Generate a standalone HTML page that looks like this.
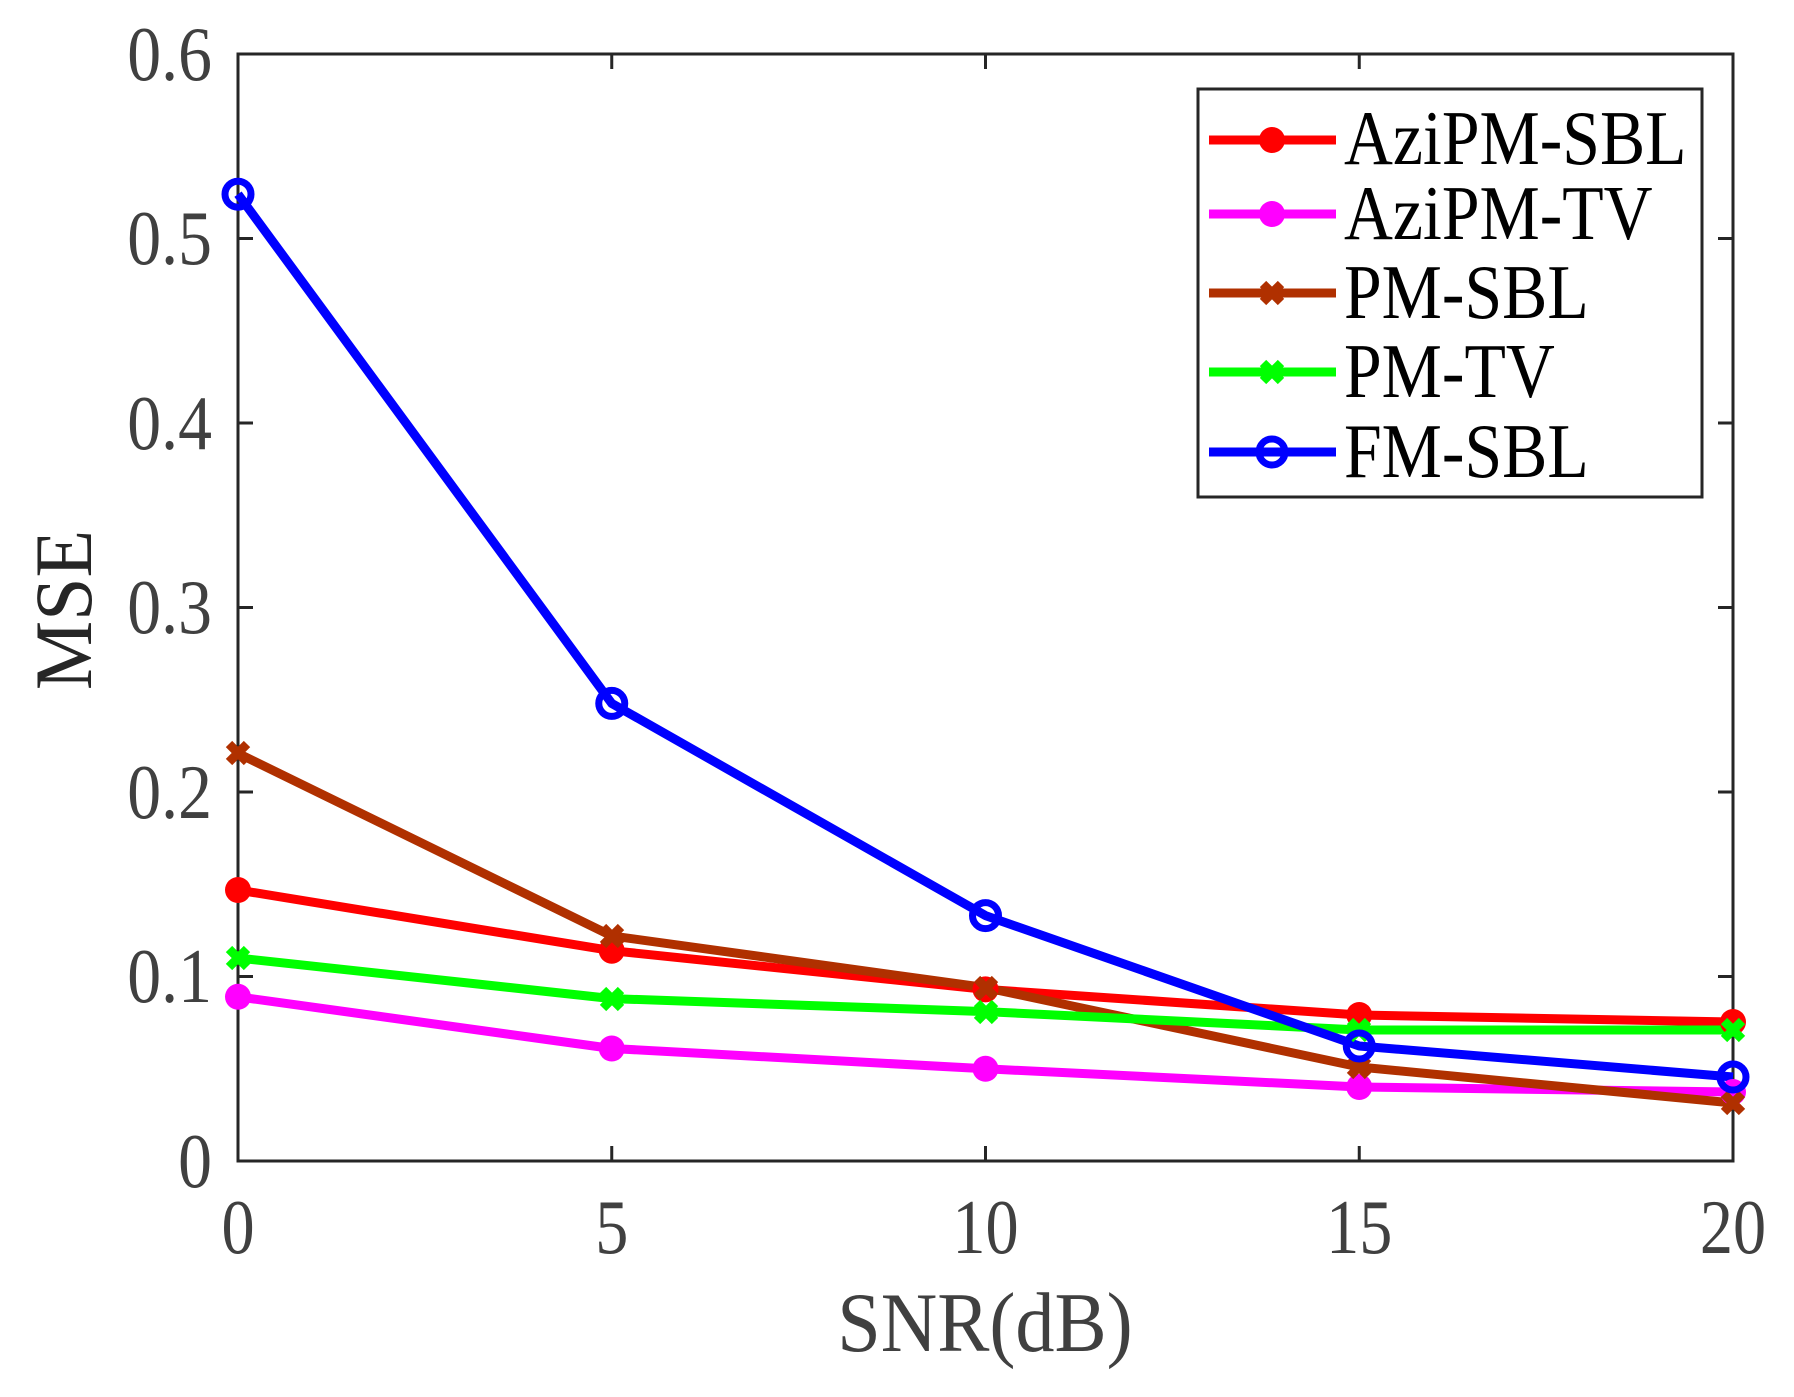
<!DOCTYPE html>
<html><head><meta charset="utf-8"><style>
html,body{margin:0;padding:0;background:#fff;}
svg{display:block;}
text{font-family:"Liberation Serif","Times New Roman",serif;}
</style></head><body>
<svg width="1794" height="1397" viewBox="0 0 1794 1397" xmlns="http://www.w3.org/2000/svg">
<rect width="1794" height="1397" fill="#fff"/>
<g stroke="#262626" stroke-width="3" fill="none">
<rect x="238" y="54" width="1495" height="1107"/>
<path d="M611.75,1161v-15M985.5,1161v-15M1359.25,1161v-15
M611.75,54v15M985.5,54v15M1359.25,54v15
M238,976.5h15M238,792h15M238,607.5h15M238,423h15M238,238.5h15
M1733,976.5h-15M1733,792h-15M1733,607.5h-15M1733,423h-15M1733,238.5h-15"/>
</g>
<g fill="#404040" font-size="77" text-anchor="end">
<text transform="translate(212,1187) scale(0.88,1)">0</text>
<text transform="translate(212,1002) scale(0.88,1)">0.1</text>
<text transform="translate(212,818) scale(0.88,1)">0.2</text>
<text transform="translate(212,633) scale(0.88,1)">0.3</text>
<text transform="translate(212,449) scale(0.88,1)">0.4</text>
<text transform="translate(212,264) scale(0.88,1)">0.5</text>
<text transform="translate(212,80) scale(0.88,1)">0.6</text>
</g>
<g fill="#404040" font-size="77" text-anchor="middle">
<text transform="translate(238,1253) scale(0.86,1)">0</text>
<text transform="translate(611.75,1253) scale(0.86,1)">5</text>
<text transform="translate(985.5,1253) scale(0.86,1)">10</text>
<text transform="translate(1359.25,1253) scale(0.86,1)">15</text>
<text transform="translate(1733,1253) scale(0.86,1)">20</text>
</g>
<text transform="translate(985,1351) scale(0.92,1)" font-size="85" fill="#404040" text-anchor="middle">SNR(dB)</text>
<text transform="translate(91,610) rotate(-90) scale(0.95,1)" font-size="82" fill="#262626" text-anchor="middle">MSE</text>
<g fill="none" stroke-width="9" stroke-linejoin="round">
<polyline stroke="#ff0000" points="238,890 611.75,950.7 985.5,989.4 1359.25,1015 1733,1022"/>
<polyline stroke="#ff00ff" points="238,996.8 611.75,1048.5 985.5,1068.8 1359.25,1087 1733,1092"/>
<polyline stroke="#b03000" points="238,753.3 611.75,935.9 985.5,987.6 1359.25,1067 1733,1103"/>
<polyline stroke="#00ff00" points="238,958 611.75,998.6 985.5,1011.6 1359.25,1030 1733,1030"/>
<polyline stroke="#0000ff" points="238,194.2 611.75,703.4 985.5,915.6 1359.25,1046 1733,1077"/>
</g>
<g fill="#ff0000"><circle cx="238" cy="890" r="13"/><circle cx="611.75" cy="950.7" r="13"/><circle cx="985.5" cy="989.4" r="13"/><circle cx="1359.25" cy="1015" r="13"/><circle cx="1733" cy="1022" r="13"/></g>
<g fill="#ff00ff"><circle cx="238" cy="996.8" r="13"/><circle cx="611.75" cy="1048.5" r="13"/><circle cx="985.5" cy="1068.8" r="13"/><circle cx="1359.25" cy="1087" r="13"/><circle cx="1733" cy="1092" r="13"/></g>
<g stroke="#b03000" stroke-width="9"><path d="M229,744l18,18M247,744l-18,18M603,927l18,18M621,927l-18,18M977,979l18,18M995,979l-18,18M1350,1058l18,18M1368,1058l-18,18M1724,1094l18,18M1742,1094l-18,18"/></g>
<g stroke="#00ff00" stroke-width="9"><path d="M229,949l18,18M247,949l-18,18M603,990l18,18M621,990l-18,18M977,1003l18,18M995,1003l-18,18M1350,1021l18,18M1368,1021l-18,18M1724,1021l18,18M1742,1021l-18,18"/></g>
<g fill="none" stroke="#0000ff" stroke-width="7"><circle cx="238" cy="194.2" r="13"/><circle cx="611.75" cy="703.4" r="13"/><circle cx="985.5" cy="915.6" r="13"/><circle cx="1359.25" cy="1046" r="13"/><circle cx="1733" cy="1077" r="13"/></g>
<rect x="1198" y="89" width="504" height="408" fill="#fff" stroke="#262626" stroke-width="3"/>
<g stroke-width="9">
<line x1="1209" y1="140" x2="1336" y2="140" stroke="#ff0000"/>
<line x1="1209" y1="214" x2="1336" y2="214" stroke="#ff00ff"/>
<line x1="1209" y1="293" x2="1336" y2="293" stroke="#b03000"/>
<line x1="1209" y1="372" x2="1336" y2="372" stroke="#00ff00"/>
<line x1="1209" y1="452" x2="1336" y2="452" stroke="#0000ff"/>
</g>
<circle cx="1272" cy="140" r="13" fill="#ff0000"/>
<circle cx="1272" cy="214" r="13" fill="#ff00ff"/>
<path d="M1263,284l18,18M1281,284l-18,18" stroke="#b03000" stroke-width="9"/>
<path d="M1263,363l18,18M1281,363l-18,18" stroke="#00ff00" stroke-width="9"/>
<circle cx="1272" cy="452" r="13" fill="none" stroke="#0000ff" stroke-width="7"/>
<g font-size="77" fill="#000">
<text transform="translate(1344,164) scale(0.88,1)">AziPM-SBL</text>
<text transform="translate(1344,239) scale(0.88,1)">AziPM-TV</text>
<text transform="translate(1344,318) scale(0.88,1)">PM-SBL</text>
<text transform="translate(1344,397) scale(0.88,1)">PM-TV</text>
<text transform="translate(1344,477) scale(0.88,1)">FM-SBL</text>
</g>
</svg>
</body></html>
